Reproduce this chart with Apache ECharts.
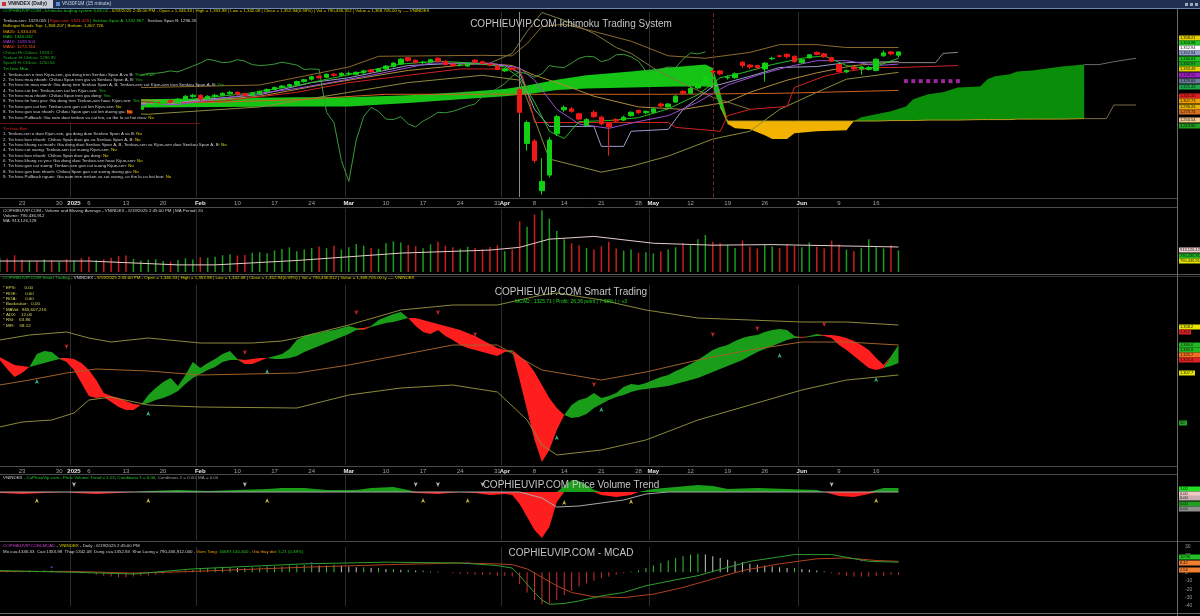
<!DOCTYPE html>
<html>
<head>
<meta charset="utf-8">
<title>VNINDEX - COPHIEUVIP.COM</title>
<script src="https://cdn.jsdelivr.net/npm/echarts@6.0.0/dist/echarts.min.js"></script>
<style>
html, body { margin: 0; padding: 0; background: #000; }
#main { width: 1200px; height: 616px; }
</style>
</head>
<body>
<div id="main"></div>
<script>
var FONT = 'Liberation Sans';

// ---- trading days (HOSE, Tet / Hung Kings / 30-4 holidays skipped)
var dates = [
  '12/18','12/19','12/20','12/23','12/24','12/25','12/26','12/27','12/30','12/31',
  '01/02','01/03','01/06','01/07','01/08','01/09','01/10','01/13','01/14','01/15','01/16','01/17','01/20','01/21','01/22','01/23','01/24',
  '02/03','02/04','02/05','02/06','02/07','02/10','02/11','02/12','02/13','02/14','02/17','02/18','02/19','02/20','02/21','02/24','02/25','02/26','02/27','02/28',
  '03/03','03/04','03/05','03/06','03/07','03/10','03/11','03/12','03/13','03/14','03/17','03/18','03/19','03/20','03/21','03/24','03/25','03/26','03/27','03/28','03/31',
  '04/01','04/02','04/03','04/04','04/08','04/09','04/10','04/11','04/14','04/15','04/16','04/17','04/18','04/21','04/22','04/23','04/24','04/25','04/28','04/29',
  '05/05','05/06','05/07','05/08','05/09','05/12','05/13','05/14','05/15','05/16','05/19','05/20','05/21','05/22','05/23','05/26','05/27','05/28','05/29','05/30',
  '06/02','06/03','06/04','06/05','06/06','06/09','06/10','06/11','06/12','06/13','06/16','06/17','06/18','06/19'
];
var futureSlots = 37;
var tickDates  = ['12/23','12/30','01/02','01/06','01/13','01/20','02/03','02/10','02/17','02/24','03/03','03/10','03/17','03/24','03/31','04/01','04/08','04/14','04/21','04/28','05/05','05/12','05/19','05/26','06/02','06/09','06/16'];
var tickLabels = ['23','30','2025','6','13','20','Feb','10','17','24','Mar','10','17','24','31','Apr','8','14','21','28','May','12','19','26','Jun','9','16'];
var boldLabels = ['2025','Feb','Mar','Apr','May','Jun'];
var monthStarts = ['01/02','02/03','03/03','04/01','05/05','06/02'];

// ---- VNINDEX daily OHLC
var opens = [
  1258,1263,1259,1256,1253,1262,1259,1268,1265,1269,
  1266,1270,1261,1250,1256,1248,1241,1236,1228,1235,
  1241,1245,1248,1253,1250,1255,1261,1264,1256,1261,
  1264,1267,1270,1267,1264,1267,1272,1276,1280,1283,
  1286,1292,1297,1303,1301,1307,1305,1308,1307,1310,
  1316,1313,1318,1323,1328,1341,1336,1331,1332,1340,
  1334,1328,1326,1324,1336,1333,1328,1324,1314,1320,
  1276,1165,1170,1068,1100,1185,1234,1236,1226,1202,
  1229,1219,1206,1214,1213,1222,1233,1228,1229,1246,
  1240,1250,1272,1268,1279,1290,1313,1314,1300,1300,
  1332,1326,1325,1318,1339,1345,1348,1344,1331,1341,
  1352,1349,1341,1327,1312,1322,1318,1317,1315,1345,
  1353,1346.33
];
var closes = [
  1262,1258,1255,1252,1262,1258,1268,1265,1268,1266,
  1270,1262,1250,1256,1248,1240,1236,1227,1235,1240,
  1246,1248,1252,1250,1256,1262,1264,1256,1262,1264,
  1268,1270,1266,1264,1268,1272,1276,1280,1283,1286,
  1292,1296,1302,1300,1307,1305,1309,1309,1311,1314,
  1312,1318,1324,1330,1338,1335,1331,1332,1337,1334,
  1327,1325,1326,1328,1332,1329,1326,1317,1318,1317,
  1229,1208,1130,1087,1172,1220,1239,1231,1215,1214,
  1220,1205,1199,1211,1219,1229,1228,1231,1236,1242,
  1246,1262,1268,1278,1288,1303,1312,1308,1301,1308,
  1325,1322,1321,1330,1340,1344,1343,1333,1337,1347,
  1348,1343,1334,1313,1315,1318,1322,1321,1338,1351,
  1349,1352.94
];
var lows = [
  1255,1254,1252,1248,1251,1255,1257,1263,1262,1264,
  1264,1260,1248,1247,1246,1238,1232,1224,1226,1233,
  1239,1243,1246,1247,1249,1253,1259,1252,1254,1259,
  1262,1265,1263,1261,1262,1265,1270,1274,1278,1281,
  1284,1290,1294,1297,1299,1302,1303,1304,1305,1308,
  1310,1311,1316,1321,1326,1333,1329,1328,1330,1332,
  1325,1322,1323,1322,1330,1327,1323,1315,1312,1315,
  1226,1150,1125,1060,1095,1180,1230,1228,1212,1200,
  1217,1202,1140,1207,1211,1220,1225,1225,1227,1239,
  1238,1248,1265,1266,1277,1288,1308,1305,1296,1298,
  1320,1318,1317,1292,1336,1341,1340,1331,1329,1339,
  1346,1341,1332,1310,1309,1315,1306,1315,1313,1343,
  1346,1342.08
];
var highs = [
  1265,1265,1262,1258,1264,1264,1270,1271,1271,1272,
  1274,1272,1263,1258,1258,1250,1244,1238,1237,1243,
  1248,1251,1255,1256,1258,1264,1267,1266,1264,1267,
  1270,1273,1272,1269,1270,1274,1278,1282,1285,1288,
  1294,1298,1304,1305,1309,1310,1311,1313,1313,1316,
  1318,1320,1326,1332,1340,1343,1338,1335,1339,1342,
  1336,1330,1330,1330,1338,1335,1330,1326,1320,1322,
  1278,1212,1174,1135,1178,1224,1243,1240,1228,1217,
  1233,1222,1209,1217,1222,1231,1234,1233,1238,1249,
  1248,1264,1275,1281,1291,1305,1317,1316,1305,1311,
  1334,1328,1327,1332,1343,1347,1350,1346,1339,1349,
  1354,1351,1343,1329,1317,1324,1324,1324,1340,1356,
  1355,1353.98
];

// ---- volume (million shares) and its MA20
var volumes = [
  520,480,610,450,420,390,460,430,380,470,
  420,510,560,430,470,520,580,600,480,420,450,470,400,380,440,500,460,
  540,520,560,610,650,600,620,700,720,680,790,840,900,760,820,880,930,870,960,820,
  900,1020,960,880,840,1050,1120,1080,990,940,870,1010,1100,960,900,850,920,880,830,910,980,
  760,820,1850,1650,2100,2250,1950,1500,1200,1050,980,880,820,940,1100,860,780,820,700,720,
  680,760,820,900,1050,980,1200,1350,1100,1050,990,880,1150,920,860,1000,940,880,1020,950,
  900,1080,920,860,1150,1000,820,760,880,1200,900,860,980,790
];
var volMA = [[0,400],[12,400],[24,260],[29,260],[40,420],[54,690],[66,800],[70,900],[74,1200],[80,1300],[88,1050],[96,980],[104,1000],[112,960],[121,913]];

// ---- Ichimoku / MA / Bollinger lines, [day index, price]
var tenkan = [[0,1262],[10,1265],[17,1250],[22,1245],[27,1255],[35,1265],[42,1290],[47,1300],[55,1325],[62,1330],[68,1325],[70,1310],[72,1235],[74,1200],[80,1200],[81,1159],[84,1159],[85,1190],[90,1194],[92,1235],[96,1282],[101,1303],[105,1321],[110,1323],[114,1331],[121,1333]];
var kijun = [[0,1258],[15,1255],[22,1248],[30,1252],[40,1270],[47,1290],[55,1305],[62,1318],[70,1318],[71,1275],[72,1208],[90,1208],[91,1198],[97,1190],[98,1222],[101,1235],[106,1241],[107,1280],[111,1303],[114,1313],[118,1321],[121,1321],[129,1325]];
var ma5 = [[0,1260],[5,1258],[10,1266],[17,1238],[22,1246],[27,1258],[33,1267],[40,1284],[46,1303],[54,1328],[59,1334],[64,1330],[68,1322],[70,1300],[72,1250],[74,1190],[76,1175],[78,1210],[82,1212],[86,1218],[90,1236],[94,1265],[97,1300],[100,1310],[104,1327],[108,1340],[111,1345],[114,1325],[117,1318],[121,1340]];
var ma10 = [[0,1262],[10,1264],[18,1245],[24,1245],[30,1258],[40,1278],[50,1305],[58,1330],[66,1330],[70,1320],[72,1295],[75,1235],[78,1205],[82,1196],[86,1210],[90,1222],[94,1250],[98,1285],[102,1305],[106,1322],[110,1335],[114,1335],[118,1325],[121,1328]];
var ma20 = [[0,1262],[15,1258],[25,1250],[35,1262],[45,1290],[55,1315],[65,1330],[69,1325],[72,1305],[76,1285],[80,1262],[86,1240],[92,1235],[98,1250],[101,1270],[106,1295],[110,1310],[115,1325],[121,1333]];
var ma50 = [[0,1262],[19,1248],[30,1250],[40,1255],[52,1266],[70,1266],[90,1266],[105,1268],[121,1274]];
var bbUpper = [[0,1285],[20,1280],[35,1285],[47,1322],[51,1344],[65,1346],[69,1345],[71,1370],[73,1405],[76,1410],[80,1395],[85,1375],[90,1345],[95,1340],[101,1352],[105,1368],[110,1368],[114,1362],[121,1362]];
var bbLower = [[0,1235],[20,1225],[35,1240],[47,1270],[55,1290],[65,1305],[70,1295],[71,1256],[74,1133],[81,1106],[85,1118],[90,1139],[96,1174],[101,1190],[105,1235],[110,1270],[114,1297],[121,1311]];
var oliveBand = [[66,1330],[69,1350],[71,1395],[73,1434],[76,1418],[80,1391],[83,1362],[85,1350],[88,1320],[91,1295],[93,1281],[96,1260],[101,1235]];
var projGray = [[121,1331],[126,1331],[127,1350],[129,1352]];
var extA = [[146,1327],[148,1327],[150,1333],[153,1340]];
var extB = [[146,1216],[149,1216],[150,1244],[153,1244]];
var purpleDots = [[122,1293],[123,1293],[124,1293],[125,1293],[126,1293],[127,1293],[128,1293],[129,1293]];

// Kumo: Senkou Span A / B (already shifted 26 days ahead)
var senkouIdx = [0,19,40,47,55,62,68,71,75,79,85,91,95,96,97,98,99,101,103,104,106,107,110,114,115,116,118,120,122,123,125,127,129,132,133,134,136,137,139,141,143,146];
var senkouA = [1245,1256,1260,1260,1264,1270,1277,1284,1296,1305,1313,1322,1327,1320,1270,1205,1196,1194,1182,1174,1174,1186,1190,1192,1211,1219,1225,1231,1241,1256,1266,1270,1280,1282,1297,1303,1307,1313,1315,1319,1323,1327];
var senkouB = [1239,1239,1241,1241,1248,1256,1262,1266,1275,1278,1280,1282,1282,1280,1240,1211,1211,1211,1211,1211,1211,1211,1211,1211,1211,1211,1211,1212,1212,1212,1213,1213,1213,1214,1214,1214,1214,1215,1215,1215,1215,1216];

// ---- Smart Trading (fast / slow curves and band)
var stFast = [
  105,96,88,92,98,111,114,113,107,103,
  95,82,69,67,68,63,58,55,55,60,
  70,77,83,87,79,90,103,97,102,106,
  111,114,106,101,101,104,107,109,111,116,
  125,129,131,132,134,135,137,139,137,135,
  139,145,148,151,153,147,139,133,131,135,
  129,125,120,117,115,113,111,109,113,115,
  85,55,25,3,15,35,50,60,65,67,
  72,67,69,72,78,81,80,82,85,88,
  90,94,97,101,105,110,115,118,120,124,
  127,129,130,133,135,136,135,129,127,129,
  131,129,127,120,115,109,103,97,95,97,
  109,120
];
var stSlow = [
  108,104,100,99,98,100,102,104,106,107,
  106,102,95,85,72,69,67,64,61,60,
  62,65,67,70,74,81,87,91,95,98,
  103,105,105,105,106,107,107,106,106,107,
  109,113,116,119,122,125,128,131,135,137,
  138,140,142,143,145,147,147,145,143,141,
  139,137,135,132,129,125,121,117,115,113,
  109,103,93,80,67,57,50,47,48,51,
  57,61,65,68,70,73,75,76,77,78,
  79,81,83,85,87,90,93,96,99,102,
  105,109,113,116,119,122,125,127,128,128,
  129,130,130,129,127,124,120,115,107,100,
  99,102
];
var stUpper = [[0,125],[4,130],[9,133],[12,127],[15,123],[20,127],[27,122],[34,122],[38,124],[40,127],[47,140],[54,155],[61,160],[67,160],[73,170],[75,172],[81,165],[87,155],[94,147],[101,145],[108,143],[114,143],[121,140]];
var stMid = [[0,80],[4,85],[9,92],[13,96],[20,94],[27,90],[40,92],[47,100],[54,110],[61,120],[67,120],[73,95],[81,85],[87,93],[94,105],[101,115],[108,123],[114,123],[121,120]];
var stLower = [[0,38],[3,43],[7,45],[10,52],[12,65],[15,68],[20,60],[27,58],[40,57],[47,70],[54,77],[61,80],[67,73],[71,45],[73,20],[75,10],[81,15],[87,25],[94,45],[101,60],[108,75],[114,85],[121,90]];
var stBuyMarks = [[5,86],[20,54],[36,96],[75,30],[81,58],[105,112],[118,88]];
var stSellMarks = [[9,116],[33,110],[48,150],[59,150],[64,128],[80,78],[96,128],[102,134],[111,138]];

// ---- Price Volume Trend
var pvt = [[0,-1],[3,-2],[6,-1],[9,0],[10,-1],[13,-2],[16,-1],[18,0],[20,1],[24,2],[28,1],[32,2],[36,3],[38,4],[41,4],[44,2],[48,2],[50,4],[53,5],[55,2],[56,-1],[59,-2],[62,0],[64,-1],[66,-3],[68,-2],[69,-3],[70,-12],[71,-25],[72,-38],[73,-46],[74,-35],[75,-10],[76,6],[77,12],[78,11],[79,7],[80,2],[81,-3],[83,-5],[85,-3],[86,0],[88,3],[91,5],[94,7],[96,6],[98,3],[102,4],[106,3],[110,2],[111,0],[113,-4],[115,-5],[117,-2],[118,2],[119,4],[121,4]];
var pvtSignal = [[0,0],[70,0],[73,-6],[75,-15],[78,-14],[81,-11],[84,-8],[87,-2],[90,0],[121,0]];
var pvtUpMarks = [[5,-6],[20,-6],[36,-6],[57,-6],[63,-6],[76,-8],[85,-7],[118,-6]];
var pvtDownMarks = [[10,5],[33,5],[56,5],[59,5],[65,5],[112,5]];

// ---- MCAD
var macdHist = [
  2,2,1,1,2,1,2,2,1,1,
  1,-1,-1,-3,-4,-5,-6,-6,-5,-4,
  -4,-3,-2,-1,1,2,3,4,5,5,
  6,6,5,5,6,6,7,7,7,8,
  8,9,9,8,8,9,8,7,6,6,
  5,5,4,4,3,3,2,2,1,1,
  0,-1,-2,-2,-3,-3,-3,-4,-4,-5,
  -14,-24,-33,-38,-37,-33,-27,-22,-17,-13,
  -10,-7,-5,-3,-1,1,2,5,8,11,
  14,17,19,21,22,21,19,17,15,13,
  12,10,9,8,7,6,5,5,4,3,
  2,1,-1,-3,-4,-5,-5,-5,-4,-4,
  -3,-3
];
var macdLine = [[0,2],[10,0],[18,-2],[26,4],[41,10],[52,12],[62,11],[67,8],[69,5],[70,-4],[71,-14],[72,-24],[73,-33],[74,-38],[76,-37],[78,-34],[81,-28],[84,-24],[87,-16],[91,-9],[94,-4],[96,1],[101,13],[107,21],[112,21],[117,13],[121,12]];
var macdSignal = [[0,1],[10,1],[18,-1],[26,1],[41,6],[52,9],[62,11],[67,10],[69,9],[71,4],[73,-6],[75,-16],[77,-24],[80,-29],[84,-30],[88,-26],[92,-18],[96,-8],[100,2],[105,10],[110,16],[114,17],[118,14],[121,13]];
var macdDots = [[7,6],[42,11],[63,11],[116,14]];

// ---------------------------------------------------------------------------
var categories = dates.slice();
for (var k = 1; k <= futureSlots; k++) categories.push('+' + k);
var tickText = {};
tickDates.forEach(function (d, i) { tickText[d] = tickLabels[i]; });

var candleData = dates.map(function (d, i) { return [opens[i], closes[i], lows[i], highs[i]]; });
var volData = volumes.map(function (v, i) {
  return { value: v, itemStyle: { color: closes[i] >= opens[i] ? '#1e9a1e' : '#c81e1e' } };
});
var chikou = [];
closes.forEach(function (c, i) { if (i >= 26) chikou.push([i - 26, c]); });

var cloudBase = senkouIdx.map(function (x, i) { return [x, Math.min(senkouA[i], senkouB[i])]; });
var cloudUp = senkouIdx.map(function (x, i) { return [x, Math.max(senkouA[i] - senkouB[i], 0)]; });
var cloudDn = senkouIdx.map(function (x, i) { return [x, Math.max(senkouB[i] - senkouA[i], 0)]; });
var senkouBEdge = [];
senkouIdx.forEach(function (x, i) { if (x >= 97) senkouBEdge.push([x, senkouB[i]]); });

var stBase = stFast.map(function (f, i) { return [i, Math.min(f, stSlow[i])]; });
var stUp = stFast.map(function (f, i) { return [i, Math.max(f - stSlow[i], 0)]; });
var stDn = stFast.map(function (f, i) { return [i, Math.max(stSlow[i] - f, 0)]; });

var pvtPos = pvt.map(function (p) { return [p[0], Math.max(p[1], 0)]; });
var pvtNeg = pvt.map(function (p) { return [p[0], Math.min(p[1], 0)]; });

var histData = macdHist.map(function (v, i) {
  var prev = i > 0 ? macdHist[i - 1] : v;
  var c = v < 0 ? '#d23030' : (v >= prev ? '#36c036' : '#b8ccb8');
  return { value: v, itemStyle: { color: c } };
});

// ---------------------------------------------------------------------------
function xAxisFor(g, showLabels) {
  return {
    type: 'category', gridIndex: g, data: categories, boundaryGap: true,
    axisLine: { show: false }, axisTick: { show: false },
    axisLabel: {
      show: showLabels, margin: 3, fontSize: 6, fontFamily: FONT, color: '#a0a0a0',
      interval: function (i, v) { return tickText[v] !== undefined; },
      formatter: function (v) {
        var t = tickText[v] || '';
        return boldLabels.indexOf(t) >= 0 ? '{m|' + t + '}' : t;
      },
      rich: { m: { fontSize: 6, fontFamily: FONT, fontWeight: 'bold', color: '#e6e6e6' } }
    },
    splitLine: {
      show: true, lineStyle: { color: '#2c2c2c', width: 1 },
      interval: function (i, v) { return monthStarts.indexOf(v) >= 0; }
    }
  };
}
function yAxisFor(g, min, max) {
  return { type: 'value', gridIndex: g, min: min, max: max, show: false, splitLine: { show: false } };
}
function lineS(g, data, color, z, w) {
  return { type: 'line', xAxisIndex: g, yAxisIndex: g, data: data, symbol: 'none', silent: true,
    z: z || 3, lineStyle: { color: color, width: w || 1 } };
}
function stackS(g, stack, data, fill, z) {
  var s = { type: 'line', xAxisIndex: g, yAxisIndex: g, data: data, stack: stack, symbol: 'none',
    silent: true, z: z || 1, lineStyle: { width: 0 } };
  if (fill) s.areaStyle = { color: fill, opacity: 1 };
  return s;
}

// ---- small text helpers
function richLine(x, y, parts, size) {
  var rich = {}, str = '';
  for (var i = 0; i < parts.length; i++) {
    rich['s' + i] = { fill: parts[i][1], color: parts[i][1], fontSize: size, fontFamily: FONT,
      backgroundColor: parts[i][2] || 'transparent' };
    str += '{s' + i + '|' + parts[i][0] + '}';
  }
  return { type: 'text', x: x, y: y, z: 100, silent: true,
    style: { text: str, rich: rich, fontSize: size, fontFamily: FONT, fill: '#d0d0d0',
      verticalAlign: 'middle', textVerticalAlign: 'middle' } };
}
function title(y, text, size, color) {
  return { type: 'text', x: 571, y: y, z: 100, silent: true,
    style: { text: text, fill: color, font: size + "px '" + FONT + "'", align: 'center', textAlign: 'center',
      verticalAlign: 'middle', textVerticalAlign: 'middle' } };
}
function hline(y, x1, x2, color) {
  return { type: 'line', z: 90, silent: true, shape: { x1: x1, y1: y, x2: x2, y2: y }, style: { stroke: color, lineWidth: 1 } };
}
function rect(x, y, w, h, color, z) {
  return { type: 'rect', z: z || 100, silent: true, shape: { x: x, y: y, width: w, height: h }, style: { fill: color } };
}
function tag(y, color, text, w) {
  return [rect(1179, y - 2.5, w || 21, 5, color, 100),
    { type: 'text', x: 1180, y: y, z: 101, silent: true,
      style: { text: text, fill: '#111', font: "4px '" + FONT + "'", verticalAlign: 'middle', textVerticalAlign: 'middle' } }];
}

var W = '#d0d0d0', Y = '#e0d200', G = '#22c822', R = '#ff3030';
var S = 4.4;
var graphics = [];

// tab bar
graphics.push(rect(0, 0, 1200, 8, '#1f3050', 100));
graphics.push(rect(0, 0, 53, 8, '#c9ced7', 101));
graphics.push(rect(2, 2, 4, 4, '#c83232', 102));
graphics.push({ type: 'text', x: 8, y: 4, z: 102, silent: true, style: { text: 'VNINDEX (Daily)', fill: '#1a1a1a', font: "bold 5px '" + FONT + "'", verticalAlign: 'middle', textVerticalAlign: 'middle' } });
graphics.push(rect(56, 2, 4, 4, '#5a8ad0', 102));
graphics.push({ type: 'text', x: 62, y: 4, z: 102, silent: true, style: { text: 'VN30F1M (15 minute)', fill: '#d0d8e8', font: "5px '" + FONT + "'", verticalAlign: 'middle', textVerticalAlign: 'middle' } });
graphics.push(rect(1185, 3, 3, 3, '#9aa8c0', 102), rect(1190, 3, 3, 3, '#9aa8c0', 102), rect(1195, 3, 3, 3, '#9aa8c0', 102));
graphics.push(hline(8.5, 0, 1200, '#6a88b0'));

// black box behind Ichimoku text block
graphics.push(rect(0, 14, 141, 108, '#000', 50));

// panel 1 texts
graphics.push(richLine(3, 11, [['COPHIEUVIP.COM - Ichimoku trading system 6.06.02', G], [' - 6/19/2025 2:45:00 PM - Open = 1,346.33 | High = 1,353.98 | Low = 1,342.08 | Close = 1,352.94(0.59%) | Vol = 790,436,912 | Value = 1,368,705.00 tỷ ---- VNINDEX', Y]], S));
graphics.push(richLine(3, 21, [['Tenkan-sen: 1329.055 | ', W], ['Kijun-sen: 1321.425', R], [' | Senkou Span A: 1332.967 , ', G], ['Senkou Span B: 1296.26', W]], S));
graphics.push(richLine(3, 26, [['Bollinger Bands Top: 1,358.207 | Bottom: 1,307.726', Y]], S));
graphics.push(richLine(3, 32, [['MA20: 1,333.476', '#f0a000']], S));
graphics.push(richLine(3, 37, [['MA5: 1340.032', G]], S));
graphics.push(richLine(3, 42, [['MA10: 1328.504', '#b040e0']], S));
graphics.push(richLine(3, 47, [['MA50: 1273.744', '#ff5a20']], S));
graphics.push(richLine(3, 53, [['Chikou Hi Chikou: 1333.2', '#22a822']], S));
graphics.push(richLine(3, 58, [['Tenkan Hi Chikou: 1296.95', '#22a822']], S));
graphics.push(richLine(3, 63, [['SpanB Hi Chikou: 1250.54', '#22a822']], S));
graphics.push(richLine(3, 69, [['Tin hieu Mua', G]], S));
var buyLines = [
  ['1. Tenkan-sen o tren Kijun-sen, gia dong tren Senkou Span A va B: ', 'Thoa man', G],
  ['2. Tin hieu mua nhanh: Chikou Span tren gia va Senkou Span A, B: ', 'Yes', G],
  ['3. Tin hieu tin mua manh: Gia dong tren Senkou Span A, B, Tenkan-sen cat Kijun-sen tren Senkou Span A, B: ', 'Yes', G],
  ['4. Tin hieu cat len: Tenkan-sen cat len Kijun-sen: ', 'Yes', G],
  ['5. Tin hieu mua nhanh: Chikou Span tren gia dong: ', 'Yes', G],
  ['6. Tin hieu tin hieu yeu: Gia dong tren Tenkan-sen hoac Kijun-sen: ', 'Yes', G],
  ['7. Tin hieu gan cat len: Tenkan-sen gan cat len Kijun-sen: ', 'No', Y],
  ['8. Tin hieu gan vao nhanh: Chikou Span gan cat len duong gia: ', 'No', Y, '#b01010'],
  ['9. Tin hieu Pullback: Gia nam duoi tenkan va cat len, co the la co hoi mua: ', 'No', Y]
];
buyLines.forEach(function (l, i) {
  graphics.push(richLine(3, 74.5 + i * 5.35, [[l[0], W], [l[1], l[2], l[3]]], S));
});
graphics.push(hline(123.5, 0, 200, '#6a1414'));
graphics.push(richLine(3, 128.5, [['Tin hieu Ban', '#e02020']], S));
var sellLines = [
  '1. Tenkan-sen o duoi Kijun-sen, gia dong duoi Senkou Span A va B: ',
  '2. Tin hieu ban nhanh: Chikou Span duoi gia va Senkou Span A, B: ',
  '3. Tin hieu khang cu manh: Gia dong duoi Senkou Span A, B, Tenkan-sen va Kijun-sen duoi Senkou Span A, B: ',
  '4. Tin hieu cat xuong: Tenkan-sen cat xuong Kijun-sen: ',
  '5. Tin hieu ban nhanh: Chikou Span duoi gia dong: ',
  '6. Tin hieu khang cu yeu: Gia dong duoi Tenkan-sen hoac Kijun-sen: ',
  '7. Tin hieu gan cat xuong: Tenkan-sen gan cat xuong Kijun-sen: ',
  '8. Tin hieu gan ban nhanh: Chikou Span gan cat xuong duong gia: ',
  '9. Tin hieu Pullback nguoc: Gia nam tren tenkan va cat xuong, co the la co hoi ban: '
];
sellLines.forEach(function (l, i) {
  graphics.push(richLine(3, 134 + i * 5.35, [[l, W], ['No', Y]], S));
});

// volume texts
graphics.push(richLine(3, 211, [['COPHIEUVIP.COM - Volume and Moving Average - VNINDEX - 6/19/2025 2:45:00 PM | MA Period: 20', W]], S));
graphics.push(richLine(3, 216, [['Volume: 790,436,912', W]], S));
graphics.push(richLine(3, 221, [['MA: 913,126,128', W]], S));

// smart trading texts
graphics.push(richLine(3, 278, [['COPHIEUVIP.COM Smart Trading', G], [' - VNINDEX - ', W], ['6/19/2025 2:45:00 PM - Open = 1,346.33 | High = 1,353.98 | Low = 1,342.08 | Close = 1,352.94(0.59%) | Vol = 790,436,912 | Value = 1,368,705.00 tỷ ---- VNINDEX', Y]], S));
var stInfo = ['* EPS:       0.00', '* ROE:       0.00', '* ROA:       0.00', '* Bookvalue:   0.00', '* MAVol:  865,607,216', '* ADX:    12.06', '* RSI:    63.86', '* MFI:    58.12'];
stInfo.forEach(function (t, i) { graphics.push(richLine(3, 288 + i * 5.35, [[t, '#d8d860']], S)); });

// PVT + MCAD texts
graphics.push(richLine(3, 478, [['VNINDEX', W], [' - CoPhieuVip.com - Price Volume Trend = 1.02', G], [', ', W], ['Conditions 1 = 0.00', G], [', Conditions 2 = 0.00, MA = 0.00', '#9a9a9a']], S));
graphics.push(richLine(3, 546, [['COPHIEUVIP.COM-MCAD', '#d040d0'], [' - ', W], ['VNINDEX', Y], [' - Daily - 6/19/2025 2:45:00 PM', W]], S));
graphics.push(richLine(3, 551.5, [['Mo cua:1346.33  Cao:1353.98  Thap:1342.08  Dong cua:1352.94  Khoi Luong = 790,436,912.000 - ', W], ['Gom Tong: ', '#f0a000'], ['16687.140.400', G], [' - ', W], ['Gia thay doi: ', '#f0a000'], ['5.21 (0.38%)', G]], S));

// titles
graphics.push(title(24, 'COPHIEUVIP.COM Ichimoku Trading System', 10, '#c4c4c4'));
graphics.push(title(292, 'COPHIEUVIP.COM Smart Trading', 10, '#c4c4c4'));
graphics.push(title(302, 'MCAD : 1325.71 | Profit: 26.36 point | 7.68% | \u2191 +3', 5, '#22d222'));
graphics.push(title(485, 'COPHIEUVIP.COM Price Volume Trend', 10, '#c4c4c4'));
graphics.push(title(553, 'COPHIEUVIP.COM - MCAD', 10, '#c4c4c4'));

// frame lines
graphics.push(hline(198.5, 0, 1177, '#4a4a4a'), hline(207.5, 0, 1177, '#4a4a4a'));
graphics.push(hline(274.5, 0, 1200, '#555'), hline(276.5, 0, 1200, '#333'));
graphics.push(hline(466.5, 0, 1177, '#4a4a4a'), hline(474.5, 0, 1177, '#4a4a4a'));
graphics.push(hline(541.5, 0, 1200, '#4a4a4a'));
graphics.push(hline(613.5, 0, 1200, '#6a6a6a'));
graphics.push({ type: 'line', z: 90, silent: true, shape: { x1: 1177.5, y1: 9, x2: 1177.5, y2: 616 }, style: { stroke: '#6a6a6a', lineWidth: 1 } });

// right-hand value tags
var p1Tags = [[38,'#e6d200','1,358.21'],[43,'#1fc21f','1,353.98'],[48,'#ffffff','1,352.94'],[53,'#8fa0c8','1,352.94'],[59,'#1fc21f','1,340.03'],[64,'#1fa81f','1,332.97'],[69,'#e6d200','1,333.48'],[75,'#a020c8','1,328.50'],[81,'#6a7a9a','1,329.06'],[87,'#1fa84a','1,321.43'],[96,'#e01e1e','1,321.43'],[101,'#f0a000','1,307.73'],[107,'#e6b400','1,296.26'],[112,'#d87020','1,273.74'],[120,'#f0c890','1,250.54'],[126,'#1fa01f','1,213.80']];
var volTags = [[250,'#f0d0d0','913,126,128'],[256,'#22b822','790,436,912'],[261,'#e6e600','790,436,912']];
var stTags = [[327,'#e6e600','1,358.2'],[332,'#e02020','1,352',12],[345,'#22b822','1,340.0'],[350,'#22b822','1,332.9'],[355,'#f07020','1,325.7'],[360,'#e02020','1,321.4'],[373,'#e6e600','1,307.7',16],[423,'#22a022','50',8]];
var pvtTags = [[489,'#22e022','1.02'],[494,'#f0c8c8','0.00'],[498,'#c8b0b0','0.00'],[504,'#22a022','0.00'],[509,'#909090','0.00']];
var mcadTags = [[557,'#22c022','10.96'],[563,'#f08030','8.42'],[570,'#f08030','2.54']];
[p1Tags, volTags, stTags, pvtTags, mcadTags].forEach(function (list) {
  list.forEach(function (t) { graphics = graphics.concat(tag(t[0], t[1], t[2], t[3])); });
});

// ---------------------------------------------------------------------------
var chartDom = document.getElementById('main');
var myChart = echarts.init(chartDom);
var cloudGreen = new echarts.graphic.LinearGradient(0, 0, 1177, 0, [
  { offset: 0, color: '#16c416' }, { offset: 0.72, color: '#16c416' },
  { offset: 0.725, color: '#0a8e0a' }, { offset: 1, color: '#0a8e0a' }], true);

var option = {
  backgroundColor: '#000',
  animation: false,
  textStyle: { fontFamily: FONT },
  grid: [
    { left: -4, right: 23, top: 12, height: 185, outerBoundsMode: 'none' },
    { left: -4, right: 23, top: 209, height: 63, outerBoundsMode: 'none' },
    { left: -4, right: 23, top: 285, height: 180, outerBoundsMode: 'none' },
    { left: -4, right: 23, top: 475, height: 65, outerBoundsMode: 'none' },
    { left: -4, right: 23, top: 547, height: 59, outerBoundsMode: 'none' }
  ],
  xAxis: [xAxisFor(0, true), xAxisFor(1, false), xAxisFor(2, true), xAxisFor(3, false), xAxisFor(4, false)],
  yAxis: [
    yAxisFor(0, 1055, 1435),
    yAxisFor(1, 0, 2300),
    yAxisFor(2, 0, 180),
    yAxisFor(3, -48, 17),
    { type: 'value', gridIndex: 4, min: -40, max: 30, interval: 10, position: 'right',
      axisLine: { show: false }, axisTick: { show: false }, splitLine: { show: false },
      axisLabel: { color: '#9a9a9a', fontSize: 5, margin: 8 } }
  ],
  series: [
    // Kumo
    stackS(0, 'cloud', cloudBase, null, 1),
    stackS(0, 'cloud', cloudUp, cloudGreen, 1),
    stackS(0, 'cloud', cloudDn, '#f2b300', 1),
    lineS(0, senkouBEdge, '#b89a20', 2),
    lineS(0, extA, '#6a6a6a', 2),
    lineS(0, extB, '#7a6a4a', 2),
    // indicator lines
    lineS(0, bbUpper, '#8c6a2c'),
    lineS(0, bbLower, '#8c8c3c'),
    lineS(0, oliveBand, '#7a7a3a'),
    lineS(0, ma50, '#d06020'),
    lineS(0, ma20, '#b08a3a'),
    lineS(0, kijun, '#d02020'),
    lineS(0, tenkan, '#9a9ac8'),
    lineS(0, ma10, '#9a50d0'),
    lineS(0, ma5, '#20c020'),
    lineS(0, chikou, '#3a9a3a'),
    lineS(0, projGray, '#8a8a8a'),
    { type: 'scatter', xAxisIndex: 0, yAxisIndex: 0, data: purpleDots, symbol: 'rect', symbolSize: 4,
      itemStyle: { color: '#c030c0' }, silent: true, z: 4 },
    { type: 'candlestick', xAxisIndex: 0, yAxisIndex: 0, data: candleData, barWidth: 5, silent: true, z: 5,
      itemStyle: { color: '#12d012', color0: '#f01818', borderColor: '#12d012', borderColor0: '#f01818', borderWidth: 1 },
      markLine: { silent: true, symbol: 'none', label: { show: false },
        data: [{ xAxis: 70, lineStyle: { color: '#8a8a8a', width: 1, type: 'solid' } },
               { xAxis: 96, lineStyle: { color: '#7a2020', width: 1, type: 'dashed' } }] } },

    // volume
    { type: 'bar', xAxisIndex: 1, yAxisIndex: 1, data: volData, barWidth: 1.5, silent: true, z: 3 },
    lineS(1, volMA, '#e8cccc', 4),

    // smart trading
    stackS(2, 'st', stBase, null, 2),
    stackS(2, 'st', stUp, '#1a9e1a', 2),
    stackS(2, 'st', stDn, '#ff1e1e', 2),
    lineS(2, stUpper, '#8a8a3a', 3),
    lineS(2, stMid, '#a0602a', 3),
    lineS(2, stLower, '#8a8a3a', 3),
    { type: 'scatter', xAxisIndex: 2, yAxisIndex: 2, data: stBuyMarks, symbol: 'arrow', symbolSize: [3, 5],
      itemStyle: { color: '#40e0a0' }, silent: true, z: 5 },
    { type: 'scatter', xAxisIndex: 2, yAxisIndex: 2, data: stSellMarks, symbol: 'arrow', symbolSize: [3, 5], symbolRotate: 180,
      itemStyle: { color: '#ff3030' }, silent: true, z: 5 },

    // PVT
    { type: 'line', xAxisIndex: 3, yAxisIndex: 3, data: pvtPos, symbol: 'none', silent: true, z: 2,
      lineStyle: { width: 0 }, areaStyle: { color: '#1a9e1a', opacity: 1 } },
    { type: 'line', xAxisIndex: 3, yAxisIndex: 3, data: pvtNeg, symbol: 'none', silent: true, z: 2,
      lineStyle: { width: 0 }, areaStyle: { color: '#ff1e1e', opacity: 1 } },
    lineS(3, pvtSignal, '#a8a8a8', 3),
    { type: 'scatter', xAxisIndex: 3, yAxisIndex: 3, data: pvtUpMarks, symbol: 'arrow', symbolSize: [3, 5],
      itemStyle: { color: '#f0e040' }, silent: true, z: 5 },
    { type: 'scatter', xAxisIndex: 3, yAxisIndex: 3, data: pvtDownMarks, symbol: 'arrow', symbolSize: [3, 5], symbolRotate: 180,
      itemStyle: { color: '#e8e8e8' }, silent: true, z: 5 },

    // MCAD
    { type: 'bar', xAxisIndex: 4, yAxisIndex: 4, data: histData, barWidth: 1, silent: true, z: 2 },
    lineS(4, macdSignal, '#b04020', 3),
    lineS(4, macdLine, '#2e9e2e', 3),
    { type: 'scatter', xAxisIndex: 4, yAxisIndex: 4, data: macdDots, symbol: 'circle', symbolSize: 2,
      itemStyle: { color: '#8a40d0' }, silent: true, z: 5 }
  ],
  graphic: { elements: graphics }
};

option && myChart.setOption(option);
</script>
</body>
</html>
